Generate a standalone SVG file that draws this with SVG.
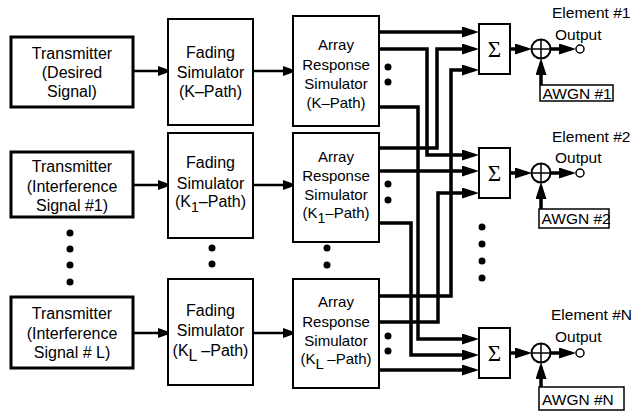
<svg xmlns="http://www.w3.org/2000/svg" width="635" height="412" viewBox="0 0 635 412">
<style>
  text { font-family: "Liberation Sans", Arial, sans-serif; fill: #000; }
  .t16 { font-size: 16px; text-anchor: middle; }
  .t15 { font-size: 15px; text-anchor: middle; }
  .lbl { font-size: 15.5px; }
  .awgn { font-size: 15.5px; }
  .sig { font-family: "Liberation Serif", "Times New Roman", serif; font-size: 23px; text-anchor: middle; }
  .tx { fill: #fff; stroke: #000; stroke-width: 3; }
  .blk { fill: #fff; stroke: #000; stroke-width: 2; }
  .thin { fill: #fff; stroke: #000; stroke-width: 1.5; }
  .wire { fill: none; stroke: #000; stroke-width: 3.5; stroke-linejoin: miter; marker-end: url(#ah); }
  .feed { fill: none; stroke: #000; stroke-width: 2.5; marker-end: url(#as); }
  .dot { fill: #000; }
</style>
<defs>
  <marker id="ah" viewBox="0 0 17 11" refX="12" refY="5.5" markerWidth="17" markerHeight="11" markerUnits="userSpaceOnUse" orient="auto">
    <path d="M0,0 L17,5.5 L0,11 Z" fill="#000"/>
  </marker>
  <marker id="as" viewBox="0 0 14 10" refX="10" refY="5" markerWidth="14" markerHeight="10" markerUnits="userSpaceOnUse" orient="auto">
    <path d="M0,0 L14,5 L0,10 Z" fill="#000"/>
  </marker>
</defs>

<!-- Connectors -->
<g id="connectors">
  <!-- transmitter -> fading -> array -->
  <path class="feed" d="M133,71 H168"/>
  <path class="feed" d="M253,71 H293"/>
  <path class="feed" d="M133,185 H168"/>
  <path class="feed" d="M253,185 H293"/>
  <path class="feed" d="M133,333 H168"/>
  <path class="feed" d="M253,333 H293"/>
  <!-- array outputs to sums -->
  <path class="wire" d="M379,32 H474"/>
  <path class="wire" d="M379,49 H427 V155 H474"/>
  <path class="wire" d="M379,107 H418 V339 H474"/>
  <path class="wire" d="M379,148 H437 V49 H474"/>
  <path class="wire" d="M379,171 H474"/>
  <path class="wire" d="M379,223 H411 V355 H474"/>
  <path class="wire" d="M379,296 H451 V70 H474"/>
  <path class="wire" d="M379,322 H438 V193 H474"/>
  <path class="wire" d="M379,370 H474"/>
  <!-- sum -> adder -> output -->
  <path class="wire" d="M510,49 H527"/>
  <path class="wire" d="M550.5,49 H571"/>
  <path class="wire" d="M541,85 V63"/>
  <path class="wire" d="M510,173 H527"/>
  <path class="wire" d="M550.5,173 H571"/>
  <path class="wire" d="M541,209 V187"/>
  <path class="wire" d="M510,353 H527"/>
  <path class="wire" d="M550.5,353 H571"/>
  <path class="wire" d="M541,387 V367"/>
</g>

<!-- Transmitters -->
<g id="tx1">
  <rect class="tx" x="11" y="37" width="122" height="70"/>
  <text class="t16" x="72" y="59">Transmitter</text>
  <text class="t16" x="72" y="78">(Desired</text>
  <text class="t16" x="72" y="97">Signal)</text>
</g>
<g id="tx2">
  <rect class="tx" x="11" y="152" width="122" height="65"/>
  <text class="t16" x="72" y="172">Transmitter</text>
  <text class="t16" x="72" y="192">(Interference</text>
  <text class="t16" x="72" y="211">Signal #1)</text>
</g>
<g id="txL">
  <rect class="tx" x="11" y="297" width="122" height="71"/>
  <text class="t16" x="72" y="319">Transmitter</text>
  <text class="t16" x="72" y="339">(Interference</text>
  <text class="t16" x="72" y="358">Signal # L)</text>
</g>

<!-- Fading simulators -->
<g id="fad1">
  <rect class="blk" x="168" y="19" width="85" height="106"/>
  <text class="t16" x="210.5" y="58">Fading</text>
  <text class="t16" x="210.5" y="78">Simulator</text>
  <text class="t16" x="210.5" y="97">(K–Path)</text>
</g>
<g id="fad2">
  <rect class="blk" x="168" y="133" width="85" height="105"/>
  <text class="t16" x="210.5" y="168">Fading</text>
  <text class="t16" x="210.5" y="189">Simulator</text>
  <text class="t16" x="210.5" y="207">(K<tspan dy="5" font-size="14">1</tspan><tspan dy="-5">–Path)</tspan></text>
</g>
<g id="fadL">
  <rect class="blk" x="168" y="279" width="85" height="106"/>
  <text class="t16" x="210.5" y="316">Fading</text>
  <text class="t16" x="210.5" y="336">Simulator</text>
  <text class="t16" x="210.5" y="356">(K<tspan dy="5" font-size="16">L</tspan><tspan dy="-5"> –Path)</tspan></text>
</g>

<!-- Array response simulators -->
<g id="arr1">
  <rect class="blk" x="293" y="16" width="86" height="110"/>
  <text class="t15" x="336" y="50">Array</text>
  <text class="t15" x="336" y="70">Response</text>
  <text class="t15" x="336" y="89">Simulator</text>
  <text class="t15" x="336" y="108">(K–Path)</text>
</g>
<g id="arr2">
  <rect class="blk" x="293" y="133" width="86" height="109"/>
  <text class="t15" x="336" y="162">Array</text>
  <text class="t15" x="336" y="181">Response</text>
  <text class="t15" x="336" y="200">Simulator</text>
  <text class="t15" x="336" y="218">(K<tspan dy="5" font-size="14">1</tspan><tspan dy="-5">–Path)</tspan></text>
</g>
<g id="arrL">
  <rect class="blk" x="293" y="279" width="86" height="109"/>
  <text class="t15" x="336" y="307">Array</text>
  <text class="t15" x="336" y="327">Response</text>
  <text class="t15" x="336" y="346">Simulator</text>
  <text class="t15" x="336" y="364">(K<tspan dy="5" font-size="15">L</tspan><tspan dy="-5"> –Path)</tspan></text>
</g>

<!-- Summers -->
<g id="sum1">
  <rect class="blk" x="479" y="24" width="31" height="50"/>
  <text class="sig" x="494.5" y="57">Σ</text>
</g>
<g id="sum2">
  <rect class="blk" x="479" y="148" width="31" height="50"/>
  <text class="sig" x="494.5" y="181">Σ</text>
</g>
<g id="sumN">
  <rect class="blk" x="479" y="328" width="31" height="50"/>
  <text class="sig" x="494.5" y="361">Σ</text>
</g>

<!-- Adders -->
<g id="add1">
  <circle class="blk" cx="541" cy="49" r="9.5"/>
  <path d="M531.5,49 H550.5 M541,39.5 V58.5" stroke="#000" stroke-width="1.5"/>
</g>
<g id="add2">
  <circle class="blk" cx="541" cy="173" r="9.5"/>
  <path d="M531.5,173 H550.5 M541,163.5 V182.5" stroke="#000" stroke-width="1.5"/>
</g>
<g id="addN">
  <circle class="blk" cx="541" cy="353" r="9.5"/>
  <path d="M531.5,353 H550.5 M541,343.5 V362.5" stroke="#000" stroke-width="1.5"/>
</g>

<!-- Outputs -->
<g id="out1">
  <circle class="thin" cx="580" cy="49" r="4"/>
  <text class="lbl" x="552" y="18">Element #1</text>
  <text class="lbl" x="555" y="40">Output</text>
</g>
<g id="out2">
  <circle class="thin" cx="580" cy="173" r="4"/>
  <text class="lbl" x="552" y="142">Element #2</text>
  <text class="lbl" x="555" y="163">Output</text>
</g>
<g id="outN">
  <circle class="thin" cx="580" cy="353" r="4"/>
  <text class="lbl" x="551" y="320">Element #N</text>
  <text class="lbl" x="555" y="342">Output</text>
</g>

<!-- AWGN -->
<g id="awgn1">
  <rect class="thin" x="540" y="85" width="73" height="16"/>
  <text class="awgn" x="542.5" y="99">AWGN #1</text>
</g>
<g id="awgn2">
  <rect class="thin" x="539" y="209" width="70" height="19"/>
  <text class="awgn" x="541.5" y="224">AWGN #2</text>
</g>
<g id="awgnN">
  <rect class="thin" x="539" y="387" width="85" height="23"/>
  <text class="awgn" x="542" y="405">AWGN #N</text>
</g>

<!-- Ellipsis dots -->
<g id="dots">
  <circle class="dot" cx="70" cy="233" r="3.5"/>
  <circle class="dot" cx="70" cy="249" r="3.5"/>
  <circle class="dot" cx="70" cy="265" r="3.5"/>
  <circle class="dot" cx="70" cy="282" r="3.5"/>
  <circle class="dot" cx="212" cy="248" r="3.5"/>
  <circle class="dot" cx="212" cy="264" r="3.5"/>
  <circle class="dot" cx="327" cy="248" r="3.5"/>
  <circle class="dot" cx="327" cy="265" r="3.5"/>
  <circle class="dot" cx="388" cy="67" r="3.5"/>
  <circle class="dot" cx="388" cy="82" r="3.5"/>
  <circle class="dot" cx="388" cy="184" r="3.5"/>
  <circle class="dot" cx="388" cy="200" r="3.5"/>
  <circle class="dot" cx="388" cy="336" r="3.5"/>
  <circle class="dot" cx="388" cy="351" r="3.5"/>
  <circle class="dot" cx="482" cy="227" r="3.5"/>
  <circle class="dot" cx="482" cy="244" r="3.5"/>
  <circle class="dot" cx="482" cy="261" r="3.5"/>
  <circle class="dot" cx="482" cy="278" r="3.5"/>
</g>
</svg>
